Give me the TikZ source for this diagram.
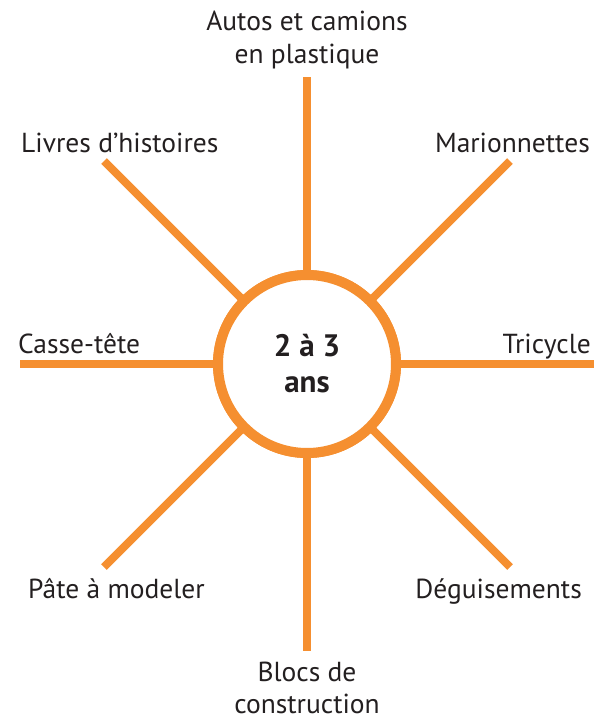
\documentclass[tikz,border=0pt]{standalone}
\usepackage{fontspec}
\setmainfont{PT Sans}
\definecolor{org}{RGB}{245,143,48}
\definecolor{ink}{RGB}{35,31,32}
\begin{document}
\begin{tikzpicture}[x=1pt,y=-1pt,
  spoke/.style={draw=org,line width=8pt},
  lbl/.style={text=ink,font=\fontsize{27.5}{33}\selectfont,inner sep=0pt,anchor=base},
  hub/.style={circle,draw=org,line width=10pt,fill=white,minimum size=178pt,inner sep=0pt,outer sep=0pt,
     text=ink,font=\fontsize{31}{36}\selectfont\bfseries,align=center}]
\useasboundingbox (0,0) rectangle (596,721);
\coordinate (eN) at (307,77);
\coordinate (eS) at (307,651);
\coordinate (eW) at (20,364);
\coordinate (eE) at (594,364);
\coordinate (eNW) at (104,161);
\coordinate (eNE) at (510,161);
\coordinate (eSW) at (104,567);
\coordinate (eSE) at (510,567);
\node[hub] (c) at (307,364) {};
\foreach \e in {eN,eS,eW,eE,eNW,eNE,eSW,eSE} \draw[spoke] (c) -- (\e);
\node[hub] (c2) at (307,364) {2 à 3\\ans};
\node[lbl] (t1) at (307,30) {Autos et camions};
\node[lbl] (t2) at (307,63) {en plastique};
\node[lbl,anchor=base west] (t3) at (21,152) {Livres d’histoires};
\node[lbl,anchor=base east] (t4) at (590,152) {Marionnettes};
\node[lbl,anchor=base west] (t5) at (18,353) {Casse-tête};
\node[lbl,anchor=base east] (t6) at (591,353) {Tricycle};
\node[lbl,anchor=base west] (t7) at (28,598) {Pâte à modeler};
\node[lbl,anchor=base east] (t8) at (582,598) {Déguisements};
\node[lbl] (t9) at (307,681) {Blocs de};
\node[lbl] (t10) at (307,713) {construction};
\end{tikzpicture}
\end{document}
